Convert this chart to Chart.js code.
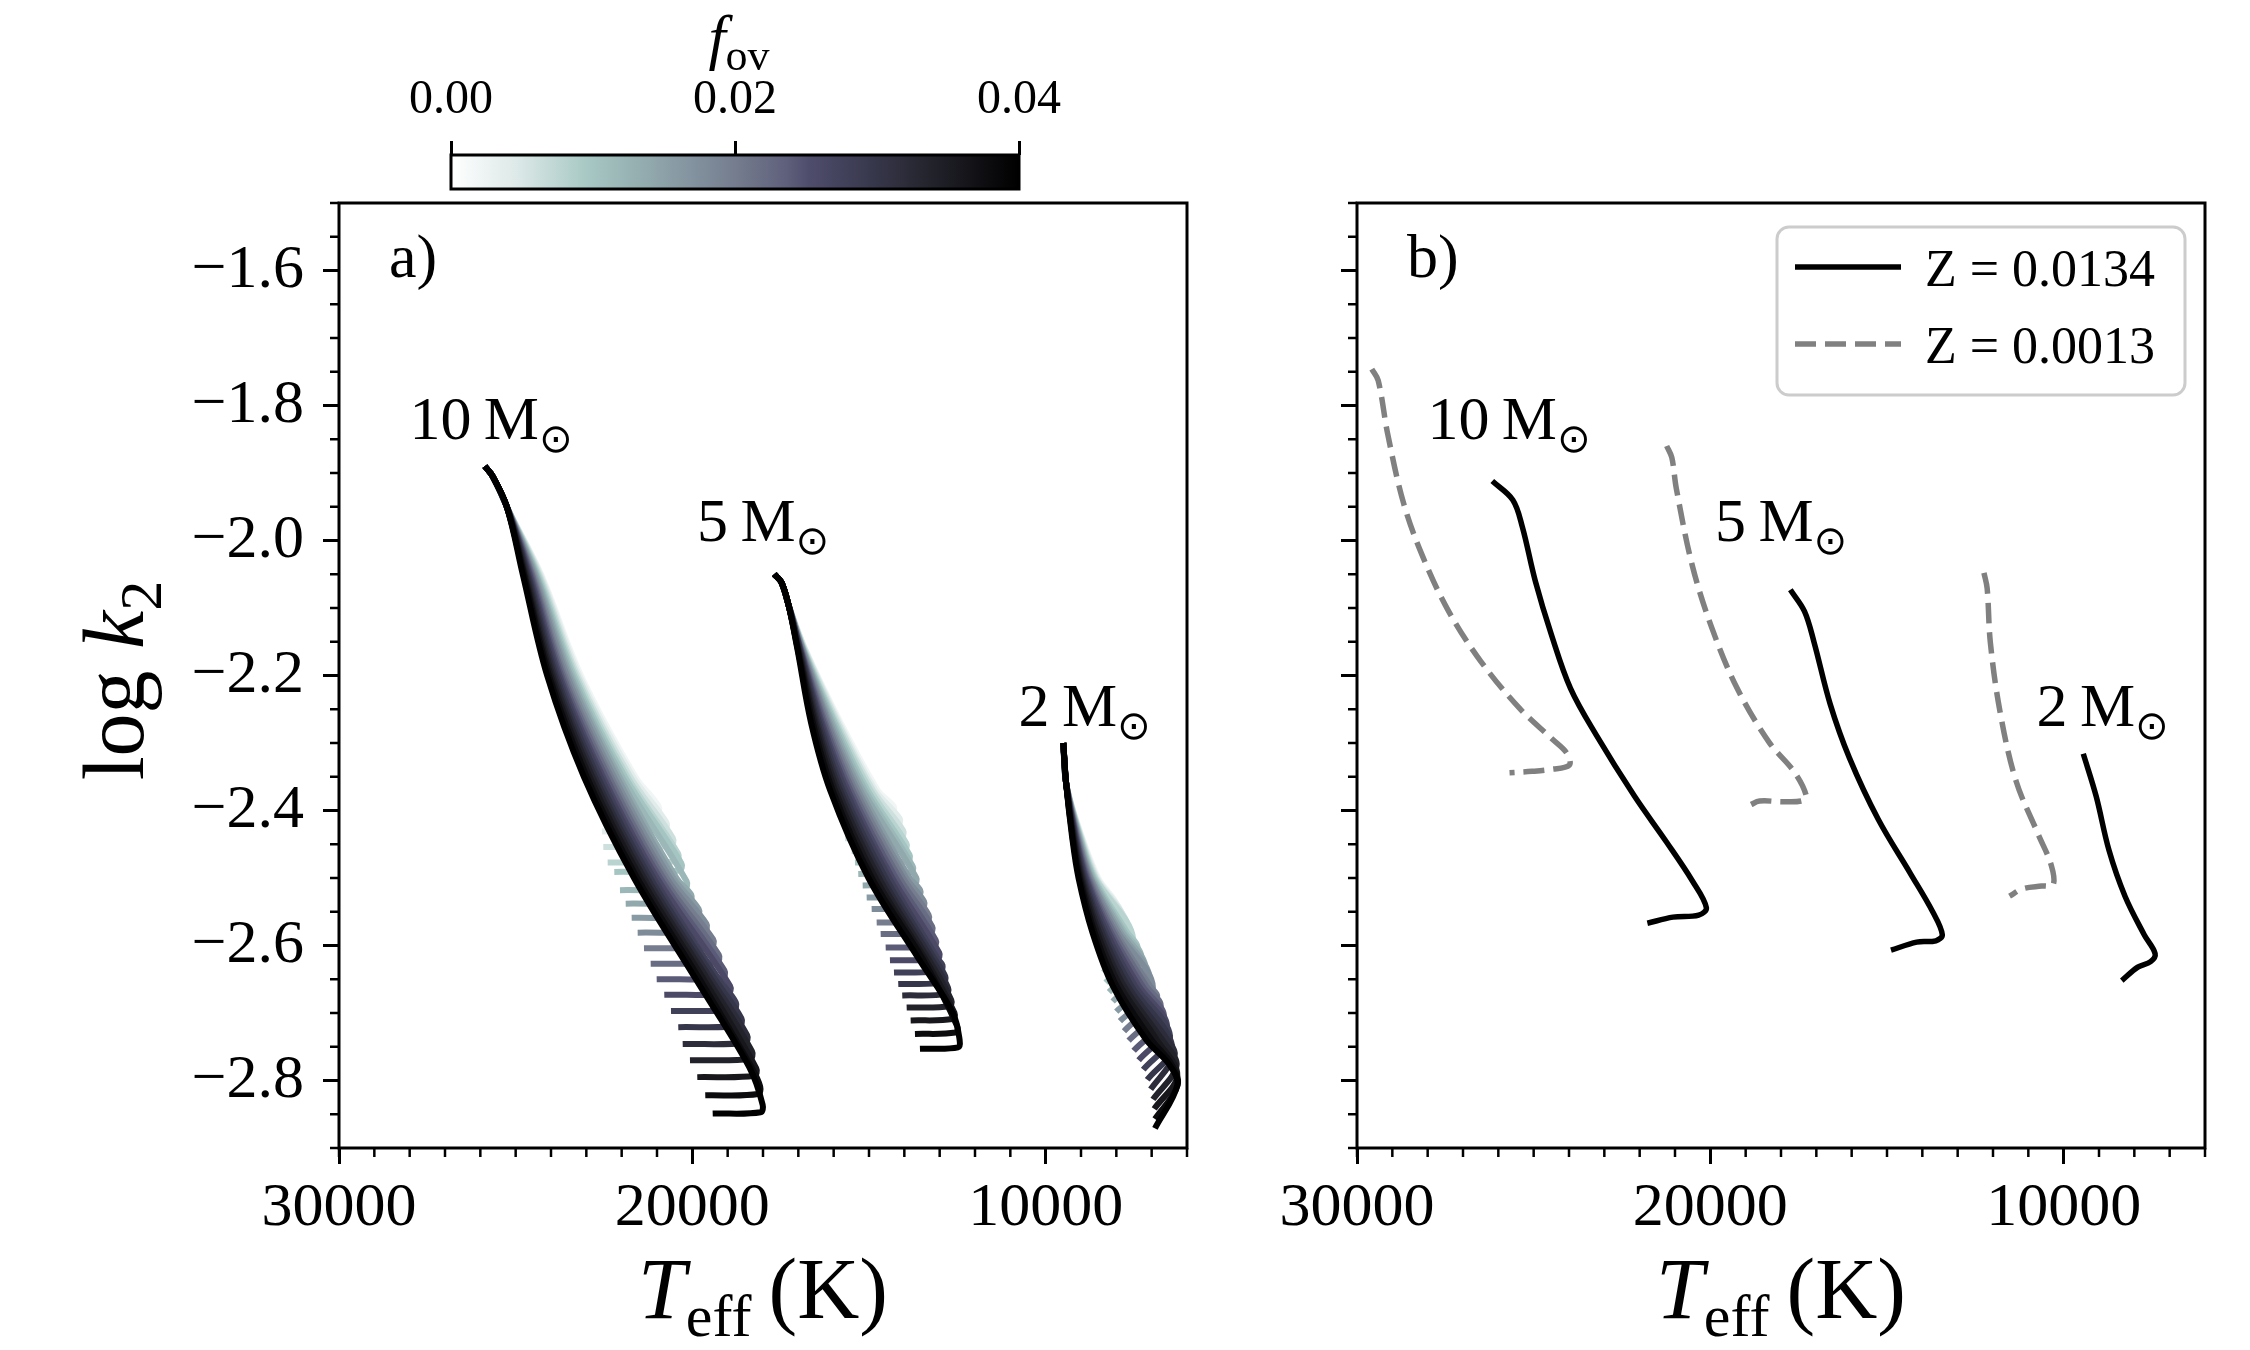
<!DOCTYPE html>
<html><head><meta charset="utf-8">
<script src="https://cdn.jsdelivr.net/npm/chart.js@4.4.1/dist/chart.umd.min.js"></script>
<style>
html,body{margin:0;padding:0;background:#fff;}
#wrap{position:relative;width:2250px;height:1350px;overflow:hidden;background:#fff;}
canvas{position:absolute;}
</style></head><body>
<div id="wrap">
<canvas id="ca" width="1230" height="1350" style="left:0;top:0;width:1230px;height:1350px"></canvas>
<canvas id="cb" width="1020" height="1350" style="left:1230px;top:0;width:1020px;height:1350px"></canvas>
<canvas id="cbar" width="1230" height="200" style="left:0;top:0;width:1230px;height:200px"></canvas>
</div>
<script>
const FONT = '"Liberation Serif", "DejaVu Serif", serif';

// ---------- ticks / labels ----------
const xTicks = [30000, 20000, 10000];
const yTicks = [-2.8, -2.6, -2.4, -2.2, -2.0, -1.8, -1.6];
const cbarTicks = [0.00, 0.02, 0.04];
const fovValues = [0.000,0.002,0.004,0.006,0.008,0.010,0.012,0.014,0.016,0.018,0.020,
                   0.022,0.024,0.026,0.028,0.030,0.032,0.034,0.036,0.038,0.040];
const massLabels = ['10', '5', '2'];
const massLabelT = [25700, 18000, 8900];
const massLabelK = [-1.85, -2.00, -2.275];
const legendLabels = ['Z = 0.0134', 'Z = 0.0013'];

// ---------- panel a: 10 Msun tracks (Teff, log k2) ----------
const m10Start = [[25870,-1.890],[25650,-1.905],[25250,-1.950]];
const m10Levels = [-2.05, -2.20, -2.35, -2.50, -2.65, -2.78];
const m10At205 = [24250,24280,24300,24330,24360,24390,24420,24440,24470,24500,24530,24550,24580,24610,24640,24660,24690,24720,24750,24770,24800];
const m10At220 = [23100,23150,23200,23250,23300,23350,23400,23450,23500,23550,23610,23660,23710,23760,23810,23860,23910,23960,24010,24060,24110];
const m10At235 = [null,21610,21680,21760,21840,21910,21990,22070,22140,22220,22300,22370,22450,22530,22600,22680,22760,22830,22910,22990,23070];
const m10At250 = [null,null,null,null,null,null,null,20450,20540,20630,20730,20820,20910,21000,21100,21190,21280,21370,21460,21560,21650];
const m10At265 = [null,null,null,null,null,null,null,null,null,null,null,null,null,null,19250,19360,19470,19570,19680,19790,19900];
const m10At278 = [null,null,null,null,null,null,null,null,null,null,null,null,null,null,null,null,null,null,null,18330,18390];
const m10Hook = [
[[21170,-2.371],[21230,-2.382],[22500,-2.384]],
[[20950,-2.394],[21010,-2.405],[22560,-2.407]],
[[20730,-2.418],[20790,-2.429],[22560,-2.431]],
[[20550,-2.441],[20610,-2.452],[22520,-2.454]],
[[20400,-2.464],[20460,-2.475],[22396,-2.477]],
[[20310,-2.478],[20370,-2.489],[22209,-2.491]],
[[20160,-2.505],[20220,-2.516],[22048,-2.518]],
[[20030,-2.525],[20090,-2.536],[21886,-2.538]],
[[19820,-2.546],[19880,-2.557],[21717,-2.559]],
[[19600,-2.568],[19660,-2.579],[21547,-2.581]],
[[19410,-2.591],[19470,-2.602],[21368,-2.604]],
[[19250,-2.614],[19310,-2.625],[21179,-2.627]],
[[19090,-2.637],[19150,-2.648],[21009,-2.650]],
[[18930,-2.660],[18990,-2.671],[20794,-2.673]],
[[18770,-2.684],[18830,-2.695],[20604,-2.697]],
[[18610,-2.708],[18670,-2.719],[20398,-2.721]],
[[18450,-2.733],[18510,-2.744],[20273,-2.746]],
[[18310,-2.757],[18370,-2.768],[20067,-2.770]],
[[18190,-2.782],[18250,-2.793],[19860,-2.795]],
[[18080,-2.809],[18140,-2.820],[19634,-2.822]],
[[18010,-2.836],[18070,-2.847],[19424,-2.849]]
];

// ---------- panel a: 5 Msun tracks ----------
const m5Start = [[17680,-2.050],[17480,-2.062],[17280,-2.095]];
const m5Levels = [-2.16, -2.27, -2.37, -2.50, -2.62, -2.70];
const m5At216 = [16800,16810,16820,16830,16850,16860,16870,16880,16890,16900,16920,16930,16940,16950,16960,16970,16980,17000,17010,17020,17030];
const m5At227 = [15750,15800,15840,15880,15930,15970,16020,16060,16110,16150,16190,16240,16280,16330,16370,16410,16460,16500,16540,16590,16640];
const m5At237 = [null,14750,14820,14890,14960,15040,15110,15180,15250,15320,15390,15460,15530,15600,15670,15750,15820,15890,15960,16030,16100];
const m5At250 = [null,null,null,null,null,null,null,null,13850,13950,14040,14140,14240,14340,14430,14530,14630,14720,14820,14920,15015];
const m5At262 = [null,null,null,null,null,null,null,null,null,null,null,null,null,null,13050,13140,13230,13320,13410,13480,13590];
const m5At270 = [null,null,null,null,null,null,null,null,null,null,null,null,null,null,null,null,null,null,null,null,12625];
const m5Hook = [
[[14510,-2.375],[14570,-2.384],[15900,-2.386]],
[[14300,-2.394],[14360,-2.403],[15830,-2.405]],
[[14130,-2.412],[14190,-2.421],[15760,-2.423]],
[[14030,-2.430],[14090,-2.439],[15680,-2.441]],
[[13940,-2.449],[14000,-2.458],[15491,-2.460]],
[[13850,-2.466],[13910,-2.475],[15397,-2.477]],
[[13760,-2.483],[13820,-2.492],[15304,-2.494]],
[[13660,-2.500],[13720,-2.509],[15179,-2.511]],
[[13550,-2.518],[13610,-2.527],[15066,-2.529]],
[[13440,-2.535],[13500,-2.544],[14925,-2.546]],
[[13310,-2.555],[13370,-2.564],[14783,-2.566]],
[[13210,-2.572],[13270,-2.581],[14670,-2.583]],
[[13110,-2.592],[13170,-2.601],[14528,-2.603]],
[[13010,-2.611],[13070,-2.620],[14407,-2.622]],
[[12920,-2.629],[12980,-2.638],[14293,-2.640]],
[[12840,-2.646],[12900,-2.655],[14172,-2.657]],
[[12760,-2.663],[12820,-2.672],[14059,-2.674]],
[[12670,-2.681],[12730,-2.690],[13934,-2.692]],
[[12580,-2.700],[12640,-2.709],[13821,-2.711]],
[[12500,-2.720],[12560,-2.729],[13699,-2.731]],
[[12435,-2.740],[12480,-2.751],[13558,-2.753]]
];

// ---------- panel a: 2 Msun tracks ----------
const m2Start = [[9500,-2.300],[9420,-2.360]];
const m2Levels = [-2.44, -2.50, -2.58, -2.66, -2.74, -2.775];
const m2At244 = [8950,8965,8980,8995,9010,9025,9040,9055,9070,9085,9100,9115,9130,9145,9160,9175,9190,9205,9220,9235,9250];
const m2At250 = [8480,8510,8540,8570,8600,8630,8660,8690,8720,8740,8770,8800,8830,8860,8890,8920,8950,8980,9010,9040,9070];
const m2At258 = [null,null,null,null,null,7700,7770,7830,7900,7960,8030,8090,8160,8220,8290,8360,8420,8490,8550,8620,8680];
const m2At266 = [null,null,null,null,null,null,null,null,null,null,7050,7155,7260,7365,7470,7575,7680,7785,7890,7995,8100];
const m2At274 = [null,null,null,null,null,null,null,null,null,null,null,null,null,null,null,null,6550,6700,6850,7000,7150];
const m2At2775 = [null,null,null,null,null,null,null,null,null,null,null,null,null,null,null,null,null,null,null,6450,6520];
const m2Hook = [
[[8200,-2.530],[8700,-2.570]],
[[7990,-2.545],[8600,-2.585]],
[[7820,-2.560],[8520,-2.600]],
[[7670,-2.575],[8440,-2.615]],
[[7525,-2.590],[8370,-2.640]],
[[7410,-2.605],[8303,-2.655]],
[[7300,-2.619],[8209,-2.669]],
[[7190,-2.633],[8104,-2.683]],
[[7070,-2.648],[8002,-2.698]],
[[6965,-2.662],[7898,-2.712]],
[[6855,-2.677],[7784,-2.727]],
[[6750,-2.691],[7652,-2.741]],
[[6655,-2.706],[7510,-2.756]],
[[6565,-2.720],[7368,-2.770]],
[[6480,-2.734],[7238,-2.784]],
[[6420,-2.749],[7125,-2.799]],
[[6355,-2.763],[7029,-2.813]],
[[6295,-2.778],[6964,-2.828]],
[[6275,-2.792],[6927,-2.842]],
[[6265,-2.807],[6907,-2.857]],
[[6270,-2.806],[6907,-2.871]]
];

// ---------- panel b: metallicity comparison ----------
const b10Solid = [[26171,-1.912],[25590,-1.940],[25320,-1.980],[24954,-2.060],[24501,-2.139],[23958,-2.219],[23231,-2.288],[22144,-2.379],[21236,-2.447],[20511,-2.504],[20112,-2.544],[20330,-2.555],[21057,-2.558],[21782,-2.567]];
const b10Dash = [[29581,-1.746],[29400,-1.763],[29128,-1.843],[28675,-1.946],[28130,-2.025],[27405,-2.105],[26497,-2.179],[25410,-2.248],[24501,-2.293],[24048,-2.316],[23994,-2.333],[24501,-2.339],[25047,-2.342],[25683,-2.344]];
const b5Solid = [[17735,-2.073],[17335,-2.105],[17063,-2.151],[16610,-2.242],[16064,-2.322],[15249,-2.413],[14341,-2.493],[13707,-2.550],[13435,-2.584],[13617,-2.593],[14160,-2.595],[14887,-2.607]];
const b5Dash = [[21236,-1.860],[21091,-1.877],[20963,-1.923],[20511,-2.037],[19968,-2.128],[19241,-2.219],[18335,-2.299],[17608,-2.344],[17282,-2.379],[17427,-2.386],[17970,-2.387],[18606,-2.386],[18878,-2.392]];
const b2Solid = [[9445,-2.316],[9080,-2.379],[8717,-2.459],[8264,-2.527],[7721,-2.584],[7412,-2.612],[7540,-2.624],[7902,-2.632],[8355,-2.652]];
const b2Dash = [[12256,-2.048],[12165,-2.071],[12075,-2.151],[11803,-2.253],[11350,-2.356],[10714,-2.436],[10351,-2.481],[10297,-2.510],[10623,-2.512],[11169,-2.516],[11532,-2.527]];

// ---------- colormap (style) ----------
const cmapStops = [[0,'#ffffff'],[0.115,'#dde9e8'],[0.24,'#a7c8c4'],[0.32,'#97b1b2'],[0.42,'#8494a0'],
  [0.51,'#737a8c'],[0.59,'#5f607c'],[0.63,'#4f4d6c'],[0.73,'#3a3a50'],[0.83,'#262630'],[0.93,'#101014'],[1,'#000000']];
function hex2rgb(h){return [parseInt(h.slice(1,3),16),parseInt(h.slice(3,5),16),parseInt(h.slice(5,7),16)];}
function cmap(f){
  f = Math.max(0, Math.min(1, f));
  for (let i = 1; i < cmapStops.length; i++) {
    const p1 = cmapStops[i][0];
    if (f <= p1) {
      const p0 = cmapStops[i-1][0];
      const t = (f - p0) / (p1 - p0);
      const a = hex2rgb(cmapStops[i-1][1]), b = hex2rgb(cmapStops[i][1]);
      return 'rgb(' + a.map((v, j) => Math.round(v + (b[j] - v) * t)).join(',') + ')';
    }
  }
  return '#000';
}
const fovMax = cbarTicks[cbarTicks.length - 1];

function toXY(arr){ return arr.map(p => ({x: p[0], y: p[1]})); }
function buildTrack(start, levels, levelT, hook, k) {
  const pts = toXY(start);
  levels.forEach((lv, j) => { const t = levelT[j][k]; if (t !== null) pts.push({x: t, y: lv}); });
  hook[k].forEach(p => pts.push({x: p[0], y: p[1]}));
  return pts;
}
const masses = [
  [m10Start, m10Levels, [m10At205, m10At220, m10At235, m10At250, m10At265, m10At278], m10Hook],
  [m5Start, m5Levels, [m5At216, m5At227, m5At237, m5At250, m5At262, m5At270], m5Hook],
  [m2Start, m2Levels, [m2At244, m2At250, m2At258, m2At266, m2At274, m2At2775], m2Hook]
];
const dsA = [];
masses.forEach(m => {
  for (let k = fovValues.length - 1; k >= 0; k--) {   // darkest first = drawn on top
    dsA.push({
      data: buildTrack(m[0], m[1], m[2], m[3], k),
      borderColor: cmap(fovValues[k] / fovMax), borderWidth: 6,
      showLine: true, pointRadius: 0, tension: 0.35, fill: false,
      borderCapStyle: 'butt', borderJoinStyle: 'round'
    });
  }
});
const solidStyle = {borderColor: '#000000', borderWidth: 5.5, showLine: true, pointRadius: 0, tension: 0.35, fill: false, borderCapStyle: 'butt'};
const dashStyle = {borderColor: '#808080', borderWidth: 5.5, borderDash: [21, 9], showLine: true, pointRadius: 0, tension: 0.35, fill: false, borderCapStyle: 'butt'};
const dsB = [
  Object.assign({data: toXY(b10Solid)}, solidStyle),
  Object.assign({data: toXY(b5Solid)}, solidStyle),
  Object.assign({data: toXY(b2Solid)}, solidStyle),
  Object.assign({data: toXY(b10Dash)}, dashStyle),
  Object.assign({data: toXY(b5Dash)}, dashStyle),
  Object.assign({data: toXY(b2Dash)}, dashStyle)
];

// ---------- drawing helpers ----------
function drawRuns(ctx, runs, x, y, align) {
  let w = 0;
  runs.forEach(r => { ctx.font = r[1]; w += ctx.measureText(r[0]).width; });
  let cx = align === 'center' ? x - w / 2 : x;
  ctx.textAlign = 'left'; ctx.textBaseline = 'alphabetic';
  runs.forEach(r => { ctx.font = r[1]; ctx.fillText(r[0], cx, y + r[2]); cx += ctx.measureText(r[0]).width; });
}

const panelPlugin = {
  id: 'panelDecor',
  afterDraw(chart, args, opts) {
    const ctx = chart.ctx, a = chart.chartArea, x = chart.scales.x, y = chart.scales.y;
    ctx.save();
    ctx.fillStyle = '#000'; ctx.strokeStyle = '#000';
    // frame
    ctx.lineWidth = 3;
    ctx.strokeRect(a.left, a.top, a.right - a.left, a.bottom - a.top);
    // minor ticks
    ctx.lineWidth = 2.5;
    for (let v = x.min; v <= x.max; v += 1000) {
      const px = x.getPixelForValue(v);
      ctx.beginPath(); ctx.moveTo(px, a.bottom); ctx.lineTo(px, a.bottom + 9); ctx.stroke();
    }
    for (let i = 0; i <= Math.round((y.max - y.min) / 0.05); i++) {
      const py = y.getPixelForValue(y.min + i * 0.05);
      ctx.beginPath(); ctx.moveTo(a.left, py); ctx.lineTo(a.left - 9, py); ctx.stroke();
    }
    // panel letter
    drawRuns(ctx, [[opts.letter, '62px ' + FONT, 0]], a.left + 50, a.top + 74, 'left');
    // mass labels
    massLabels.forEach((m, i) => {
      drawRuns(ctx, [[m + '\u2009M', '62px ' + FONT, 0], ['\u2299', '40px "DejaVu Sans"', 13]],
        x.getPixelForValue(massLabelT[i]), y.getPixelForValue(massLabelK[i]), 'center');
    });
    // x title
    const cxm = (a.left + a.right) / 2;
    drawRuns(ctx, [['T', 'italic 86px ' + FONT, 0], ['eff', '60px ' + FONT, 18], ['\u2009(K)', '86px ' + FONT, 0]],
      cxm, a.bottom + 170, 'center');
    // y title
    if (opts.yTitle) {
      ctx.save();
      ctx.translate(a.left - 196, (a.top + a.bottom) / 2 + 5);
      ctx.rotate(-Math.PI / 2);
      drawRuns(ctx, [['log ', '86px ' + FONT, 0], ['k', 'italic 86px ' + FONT, 0], ['2', '60px ' + FONT, 18]], 0, 0, 'center');
      ctx.restore();
    }
    // legend
    if (opts.legend) {
      const lx = a.left + 420, ly = a.top + 24, lw = 408, lh = 168, r = 12;
      ctx.beginPath();
      ctx.moveTo(lx + r, ly); ctx.lineTo(lx + lw - r, ly); ctx.arcTo(lx + lw, ly, lx + lw, ly + r, r);
      ctx.lineTo(lx + lw, ly + lh - r); ctx.arcTo(lx + lw, ly + lh, lx + lw - r, ly + lh, r);
      ctx.lineTo(lx + r, ly + lh); ctx.arcTo(lx, ly + lh, lx, ly + lh - r, r);
      ctx.lineTo(lx, ly + r); ctx.arcTo(lx, ly, lx + r, ly, r); ctx.closePath();
      ctx.fillStyle = 'rgba(255,255,255,0.8)'; ctx.fill();
      ctx.lineWidth = 3; ctx.strokeStyle = '#cccccc'; ctx.stroke();
      const rows = [[solidStyle, 40, 59], [dashStyle, 117, 136]];
      rows.forEach((row, i) => {
        ctx.beginPath();
        ctx.lineWidth = row[0].borderWidth; ctx.strokeStyle = row[0].borderColor;
        ctx.setLineDash(row[0].borderDash || []); ctx.lineCap = 'butt';
        ctx.moveTo(lx + 18, ly + row[1]); ctx.lineTo(lx + 124, ly + row[1]); ctx.stroke();
        ctx.setLineDash([]);
        ctx.fillStyle = '#000';
        drawRuns(ctx, [[legendLabels[i], '52px ' + FONT, 0]], lx + 148, ly + row[2], 'left');
      });
    }
    ctx.restore();
  }
};

function panelScales(yWidth, showYLabels) {
  const grid = {display: true, drawOnChartArea: false, drawTicks: true, tickLength: 16, tickWidth: 3, tickColor: '#000'};
  return {
    x: {type: 'linear', reverse: true, min: 6000, max: 30000,
      afterBuildTicks: s => { s.ticks = xTicks.map(v => ({value: v})); },
      afterFit: s => { s.height = 100; },
      ticks: {font: {family: FONT, size: 62}, color: '#000', padding: 8, maxRotation: 0, autoSkip: false, callback: v => String(v)},
      grid: grid, border: {display: false}},
    y: {type: 'linear', min: -2.9, max: -1.5,
      afterBuildTicks: s => { s.ticks = yTicks.map(v => ({value: v})); },
      afterFit: s => { s.width = yWidth; },
      ticks: {font: {family: FONT, size: 62}, color: '#000', padding: 19, autoSkip: false,
        callback: v => showYLabels ? '\u2212' + Math.abs(v).toFixed(1) : ''},
      grid: grid, border: {display: false}}
  };
}
const common = {responsive: false, devicePixelRatio: 1, animation: false, events: []};

new Chart(document.getElementById('ca'), {
  type: 'scatter',
  data: {datasets: dsA},
  options: Object.assign({}, common, {
    layout: {padding: {left: 179, right: 43, top: 203, bottom: 102}},
    scales: panelScales(160, true),
    plugins: {legend: {display: false}, tooltip: {enabled: false}, panelDecor: {letter: 'a)', yTitle: true, legend: false}}
  }),
  plugins: [panelPlugin]
});

new Chart(document.getElementById('cb'), {
  type: 'scatter',
  data: {datasets: dsB},
  options: Object.assign({}, common, {
    layout: {padding: {left: 107, right: 45, top: 203, bottom: 102}},
    scales: panelScales(20, false),
    plugins: {legend: {display: false}, tooltip: {enabled: false}, panelDecor: {letter: 'b)', yTitle: false, legend: true}}
  }),
  plugins: [panelPlugin]
});

// ---------- colorbar ----------
const cbarPlugin = {
  id: 'cbarDecor',
  afterDraw(chart) {
    const ctx = chart.ctx, a = chart.chartArea;
    ctx.save();
    ctx.lineWidth = 3; ctx.strokeStyle = '#000';
    ctx.strokeRect(a.left, a.top, a.right - a.left, a.bottom - a.top);
    ctx.fillStyle = '#000';
    drawRuns(ctx, [['f', 'italic 62px ' + FONT, 0], ['ov', '44px ' + FONT, 12]], (a.left + a.right) / 2 + 4, 58, 'center');
    ctx.restore();
  }
};
new Chart(document.getElementById('cbar'), {
  type: 'bar',
  data: {labels: ['fov'], datasets: [{
    data: [[cbarTicks[0], fovMax]], borderWidth: 0, barPercentage: 1, categoryPercentage: 1,
    backgroundColor: (c) => {
      const area = c.chart.chartArea;
      if (!area) return '#888';
      const g = c.chart.ctx.createLinearGradient(area.left, 0, area.right, 0);
      cmapStops.forEach(s => g.addColorStop(s[0], s[1]));
      return g;
    }
  }]},
  options: Object.assign({}, common, {
    indexAxis: 'y',
    layout: {padding: {left: 451, right: 211, top: 35, bottom: 11}},
    scales: {
      x: {type: 'linear', position: 'top', min: 0, max: fovMax,
        afterBuildTicks: s => { s.ticks = cbarTicks.map(v => ({value: v})); },
        afterFit: s => { s.height = 120; },
        ticks: {font: {family: FONT, size: 48}, color: '#000', padding: 12, maxRotation: 0, autoSkip: false, callback: v => v.toFixed(2)},
        grid: {display: true, drawOnChartArea: false, drawTicks: true, tickLength: 14, tickWidth: 3, tickColor: '#000'},
        border: {display: false}},
      y: {type: 'category', display: false}
    },
    plugins: {legend: {display: false}, tooltip: {enabled: false}}
  }),
  plugins: [cbarPlugin]
});
</script>
</body></html>
